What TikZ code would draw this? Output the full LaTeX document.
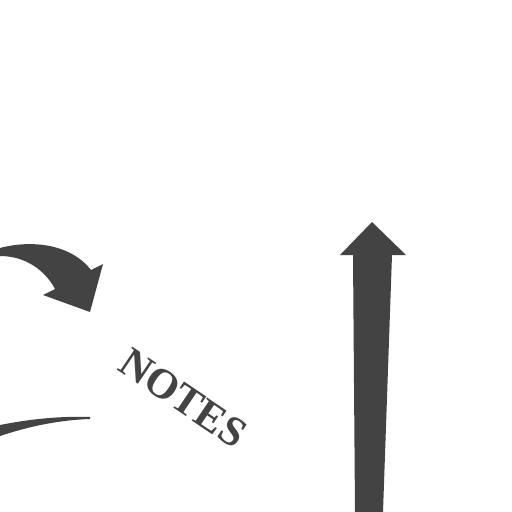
\documentclass[tikz,border=0pt]{standalone}
\usepackage{fontspec}
\usepackage{amsmath}
\setmainfont{Liberation Serif}
\definecolor{ink}{HTML}{434343}

\begin{document}
\begin{tikzpicture} [x = 0.025cm, y = -0.025cm]
\useasboundingbox (0, 0) rectangle (512, 512);
\fill[white] (0, 0) rectangle (512, 512);
% curved arrow
\fill[ink] (0, 248) .. controls (30, 240) and (70, 243) .. (91, 270) -- (103, 264) -- (90, 312) -- (43, 295) -- (55, 289) .. controls (45, 270) and (25, 256) .. (0, 256) -- cycle;
% vertical arrow
\fill[ink] (372, 222) -- (406, 255) -- (392, 255) -- (383, 512) -- (355, 512) -- (353, 255) -- (340, 255) -- cycle;
% lower stroke
\fill[ink] (0, 425) .. controls (30, 419) and (60, 416) .. (90, 417) -- (90, 419) .. controls (60, 420) and (30, 426) .. (0, 436) -- cycle;
\node[ink, rotate = -34, font = \bfseries\fontsize{30}{30}\selectfont] (notes) at (183, 398) {NOTES};
\end{tikzpicture}
\end{document}
